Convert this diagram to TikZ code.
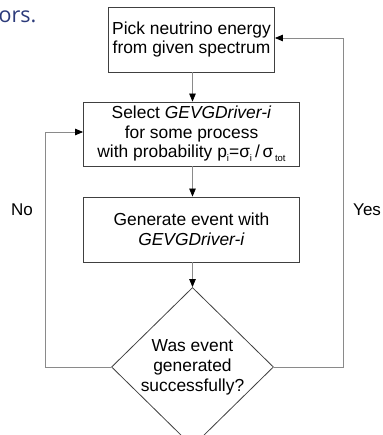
\documentclass[tikz,border=0pt]{standalone}
\usepackage{fontspec}
\setmainfont{Liberation Sans}
\newfontfamily\slidefont{Open Sans}
\usetikzlibrary{shapes.geometric,arrows.meta}
\definecolor{linegray}{HTML}{8A8A8A}
\definecolor{boxgray}{HTML}{404040}
\definecolor{slideblue}{HTML}{2B3A7A}
\newcommand{\lowsub}[1]{\raisebox{-3.5pt}{\fontsize{9.5}{10}\selectfont #1}}
\begin{document}
\begin{tikzpicture}[x=1pt,y=-1pt,
  flowbox/.style={draw=boxgray,line width=0.8pt,rectangle,inner sep=0pt,align=center,
    font=\fontsize{17.4}{19.5}\selectfont},
  decision/.style={draw=boxgray,line width=0.8pt,diamond,inner sep=0pt,align=center,
    minimum width=162pt,minimum height=140pt,font=\fontsize{17.4}{20}\selectfont},
  conn/.style={draw=linegray,line width=0.8pt,-{Triangle[length=8pt,width=6.5pt,fill=black,color=black]}},
  plainconn/.style={draw=linegray,line width=0.8pt},
  lbl/.style={font=\fontsize{17}{20}\selectfont,inner sep=0pt}]
\useasboundingbox (0,0) rectangle (382,435);
\clip (0,0) rectangle (382,435);
\node[anchor=base west,inner sep=0pt,text=slideblue,font=\slidefont\fontsize{21.5}{24}\selectfont] (ors) at (-1.5,23) {ors.};
\node[flowbox,minimum width=166pt,minimum height=65pt] (b1) at (191.5,39.5) {Pick neutrino energy\\from given spectrum};
\node[flowbox,minimum width=216pt,minimum height=64pt] (b2) at (191.5,134) {Select \textit{GEVGDriver-i}\\for some process\\with probability p\lowsub{i}=σ\lowsub{i}\,/\,σ\lowsub{\,tot}};
\node[flowbox,minimum width=216pt,minimum height=65pt] (b3) at (191.5,229.5) {Generate event with\\ \textit{GEVGDriver-i}};
\node[decision] (d) at (192.5,367) {Was event\\generated\\successfully?};
\coordinate (lb) at (45,367);
\coordinate (lt) at (45,132);
\coordinate (rb) at (343,367);
\coordinate (rt) at (343,38);
\draw[conn] (b1.south -| d.north) -- (b2.north -| d.north);
\draw[conn] (b2.south -| d.north) -- (b3.north -| d.north);
\draw[conn] (b3.south -| d.north) -- (d.north);
\draw[plainconn] (d.west) -- (lb) -- (lt);
\draw[conn] (lt) -- (lt -| b2.west);
\draw[plainconn] (d.east) -- (rb) -- (rt);
\draw[conn] (rt) -- (rt -| b1.east);
\node[lbl] (no) at (22,210) {No};
\node[lbl,anchor=west] (yes) at (353,210) {Yes};
\end{tikzpicture}
\end{document}
